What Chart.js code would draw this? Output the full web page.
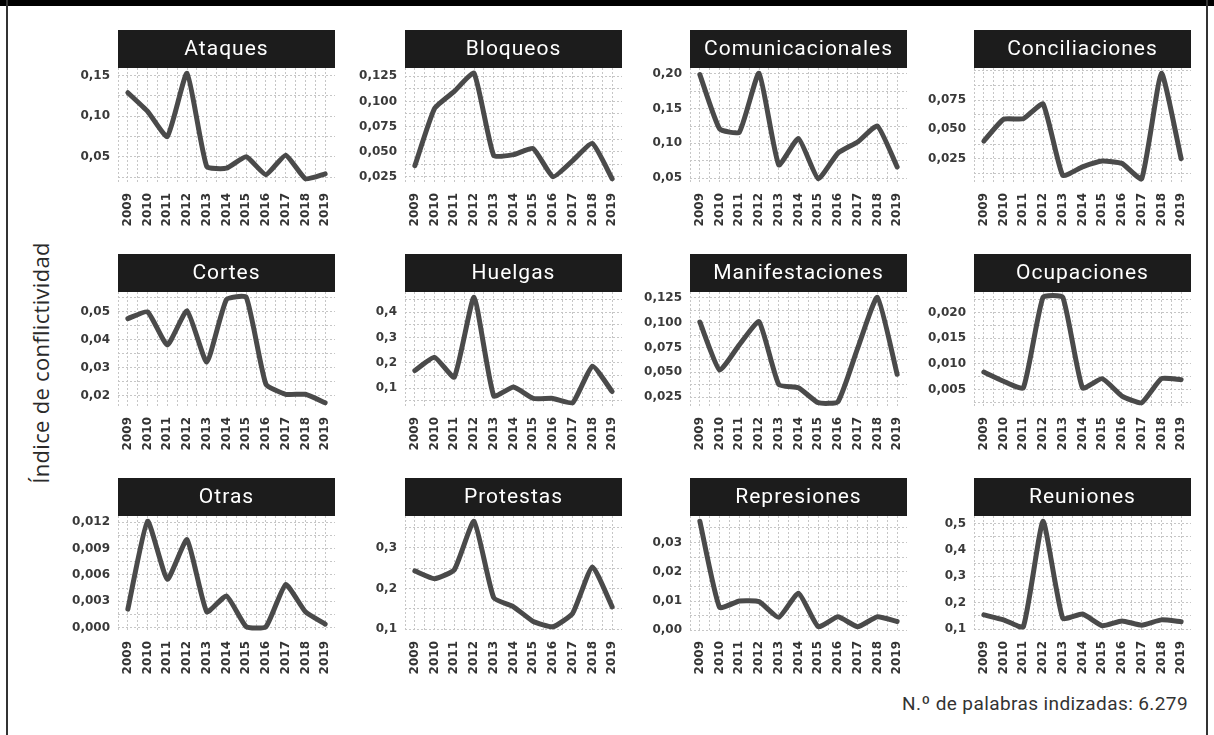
<!DOCTYPE html>
<html>
<head>
<meta charset="utf-8">
<script src="https://cdn.jsdelivr.net/npm/chart.js@4.4.0/dist/chart.umd.min.js"></script>
<style>
  html, body { margin: 0; padding: 0; background: #fff; }
  #frame { position: relative; width: 1214px; height: 735px; overflow: hidden; background: #fff; }
  #topbar { position: absolute; left: 0; top: 0; width: 1214px; height: 6px; background: #000; }
  .vline { position: absolute; top: 0; width: 2px; height: 735px; background: #333; }
  .panel { position: absolute; }
  #ytitle {
    position: absolute; left: 40px; top: 363px;
    transform: translate(-50%, -50%) rotate(-90deg);
    font: 400 22px "Open Sans", sans-serif; color: #2a2a2a; white-space: nowrap;
    letter-spacing: 0.3px;
  }
  #note {
    position: absolute; right: 26px; top: 692px;
    font: 400 19px Roboto, sans-serif; color: #333; white-space: nowrap;
    letter-spacing: 0.4px;
  }
</style>
</head>
<body>
<div id="frame">
  <div id="topbar"></div>
  <div class="vline" style="left:6px"></div>
  <div class="vline" style="left:1206px"></div>
  <div id="ytitle">Índice de conflictividad</div>
  <div id="note">N.º de palabras indizadas: 6.279</div>
</div>
<script>
const years = [2009, 2010, 2011, 2012, 2013, 2014, 2015, 2016, 2017, 2018, 2019];
const categories = ['Ataques', 'Bloqueos', 'Comunicacionales', 'Conciliaciones',
  'Cortes', 'Huelgas', 'Manifestaciones', 'Ocupaciones',
  'Otras', 'Protestas', 'Represiones', 'Reuniones'];

const ataques = [0.129, 0.106, 0.075, 0.153, 0.038, 0.036, 0.050, 0.028, 0.052, 0.023, 0.029];
const bloqueos = [0.036, 0.093, 0.110, 0.128, 0.046, 0.047, 0.053, 0.025, 0.041, 0.058, 0.023];
const comunicacionales = [0.199, 0.121, 0.116, 0.201, 0.069, 0.107, 0.049, 0.086, 0.102, 0.125, 0.066];
const conciliaciones = [0.040, 0.0586, 0.059, 0.0716, 0.0107, 0.018, 0.023, 0.021, 0.0079, 0.0978, 0.025];
const cortes = [0.0476, 0.050, 0.0382, 0.0504, 0.0321, 0.0544, 0.0552, 0.0242, 0.0206, 0.0206, 0.0176];
const huelgas = [0.170, 0.222, 0.144, 0.459, 0.070, 0.105, 0.060, 0.060, 0.043, 0.187, 0.087];
const manifestaciones = [0.1007, 0.0523, 0.0777, 0.101, 0.0377, 0.0344, 0.0193, 0.0203, 0.0743, 0.1257, 0.048];
const ocupaciones = [0.0084, 0.0066, 0.0053, 0.023, 0.023, 0.0053, 0.0071, 0.0037, 0.0024, 0.0071, 0.0069];
const otras = [0.0021, 0.0121, 0.0055, 0.0100, 0.0018, 0.0036, 0.0001, 0.0001, 0.0049, 0.0018, 0.0004];
const protestas = [0.243, 0.224, 0.246, 0.365, 0.177, 0.155, 0.119, 0.106, 0.139, 0.253, 0.155];
const represiones = [0.0373, 0.0078, 0.0100, 0.0098, 0.0044, 0.0127, 0.0012, 0.0046, 0.0012, 0.0046, 0.0030];
const reuniones = [0.154, 0.135, 0.109, 0.509, 0.141, 0.157, 0.113, 0.131, 0.115, 0.135, 0.128];

const series = [ataques, bloqueos, comunicacionales, conciliaciones, cortes, huelgas,
  manifestaciones, ocupaciones, otras, protestas, represiones, reuniones];

// y tick labels of each panel (Spanish decimal comma)
const yTickLabels = [
  ['0,05', '0,10', '0,15'],
  ['0,025', '0,050', '0,075', '0,100', '0,125'],
  ['0,05', '0,10', '0,15', '0,20'],
  ['0,025', '0,050', '0,075'],
  ['0,02', '0,03', '0,04', '0,05'],
  ['0,1', '0,2', '0,3', '0,4'],
  ['0,025', '0,050', '0,075', '0,100', '0,125'],
  ['0,005', '0,010', '0,015', '0,020'],
  ['0,000', '0,003', '0,006', '0,009', '0,012'],
  ['0,1', '0,2', '0,3'],
  ['0,00', '0,01', '0,02', '0,03'],
  ['0,1', '0,2', '0,3', '0,4', '0,5']
];

// layout of the facets
const colLeft = [118, 405, 690, 974];
const rowTop = [30, 254, 478];
const STRIP = 38, PLOT_W = 217, PLOT_H = 116, AXIS_W = 80, XLAB_H = 50;

const toNum = s => parseFloat(s.replace(',', '.'));

const stripPlugin = {
  id: 'strip',
  afterDraw(chart, args, opts) {
    const { ctx, chartArea } = chart;
    ctx.save();
    ctx.fillStyle = '#1c1c1c';
    ctx.fillRect(chartArea.left, 0, chartArea.right - chartArea.left, STRIP);
    ctx.fillStyle = '#fff';
    ctx.font = '400 21px Roboto';
    ctx.letterSpacing = '1px';
    ctx.textAlign = 'center';
    ctx.textBaseline = 'middle';
    ctx.fillText(opts.text, (chartArea.left + chartArea.right) / 2, STRIP / 2 + 1);
    ctx.restore();
  }
};

const frame = document.getElementById('frame');

categories.forEach((name, i) => {
  const col = i % 4, row = Math.floor(i / 4);
  const vals = series[i];
  const labels = yTickLabels[i];
  const major = labels.map(toNum);
  const step = major[1] - major[0];

  const lo = Math.min(...vals), hi = Math.max(...vals);
  const pad = (hi - lo) * 0.05;

  const box = document.createElement('div');
  box.className = 'panel';
  box.style.left = (colLeft[col] - AXIS_W) + 'px';
  box.style.top = rowTop[row] + 'px';
  const cv = document.createElement('canvas');
  cv.width = AXIS_W + PLOT_W;
  cv.height = STRIP + PLOT_H + XLAB_H;
  box.appendChild(cv);
  frame.appendChild(box);

  new Chart(cv, {
    type: 'line',
    data: {
      datasets: [{
        data: years.map((y, j) => ({ x: y, y: vals[j] })),
        borderColor: '#4a4a4a',
        borderWidth: 5,
        borderCapStyle: 'round',
        borderJoinStyle: 'round',
        pointRadius: 0,
        tension: 0.15,
        fill: false
      }]
    },
    options: {
      responsive: false,
      animation: false,
      layout: { padding: { top: STRIP, left: 0, right: 0, bottom: 0 } },
      plugins: {
        legend: { display: false },
        tooltip: { enabled: false },
        strip: { text: name }
      },
      scales: {
        x: {
          type: 'linear',
          min: years[0] - 0.5,
          max: years[years.length - 1] + 0.5,
          afterBuildTicks(scale) {
            const t = [];
            for (let v = years[0] - 0.5; v <= years[years.length - 1] + 0.5; v += 0.5) t.push({ value: v });
            scale.ticks = t;
          },
          afterFit(scale) {
            scale.height = XLAB_H;
            scale.paddingLeft = 0;
            scale.paddingRight = 0;
          },
          ticks: {
            autoSkip: false,
            minRotation: 90,
            maxRotation: 90,
            padding: 9,
            color: '#333',
            font: { family: 'DejaVu Sans', size: 12, weight: 'bold' },
            callback: v => (years.includes(v) ? String(v) : '')
          },
          grid: { color: '#c6c6c6', lineWidth: 1, drawTicks: false },
          border: { display: false, dash: [2, 2] }
        },
        y: {
          min: lo - pad,
          max: hi + pad,
          afterBuildTicks(scale) {
            const t = [];
            for (let v = major[0] - step; v <= major[major.length - 1] + step + 1e-9; v += step / 2) {
              if (v >= scale.min && v <= scale.max) t.push({ value: v });
            }
            scale.ticks = t;
          },
          afterFit(scale) {
            scale.width = AXIS_W;
            scale.paddingTop = 0;
            scale.paddingBottom = 0;
          },
          ticks: {
            autoSkip: false,
            padding: 8,
            color: '#3a3a3a',
            font: { family: 'DejaVu Sans', size: 12, weight: 'bold' },
            callback: v => {
              const k = major.findIndex(m => Math.abs(m - v) < step * 0.01);
              return k >= 0 ? labels[k] : '';
            }
          },
          grid: { color: '#c6c6c6', lineWidth: 1, drawTicks: false },
          border: { display: false, dash: [2, 2] }
        }
      }
    },
    plugins: [stripPlugin]
  });
});
</script>
</body>
</html>
